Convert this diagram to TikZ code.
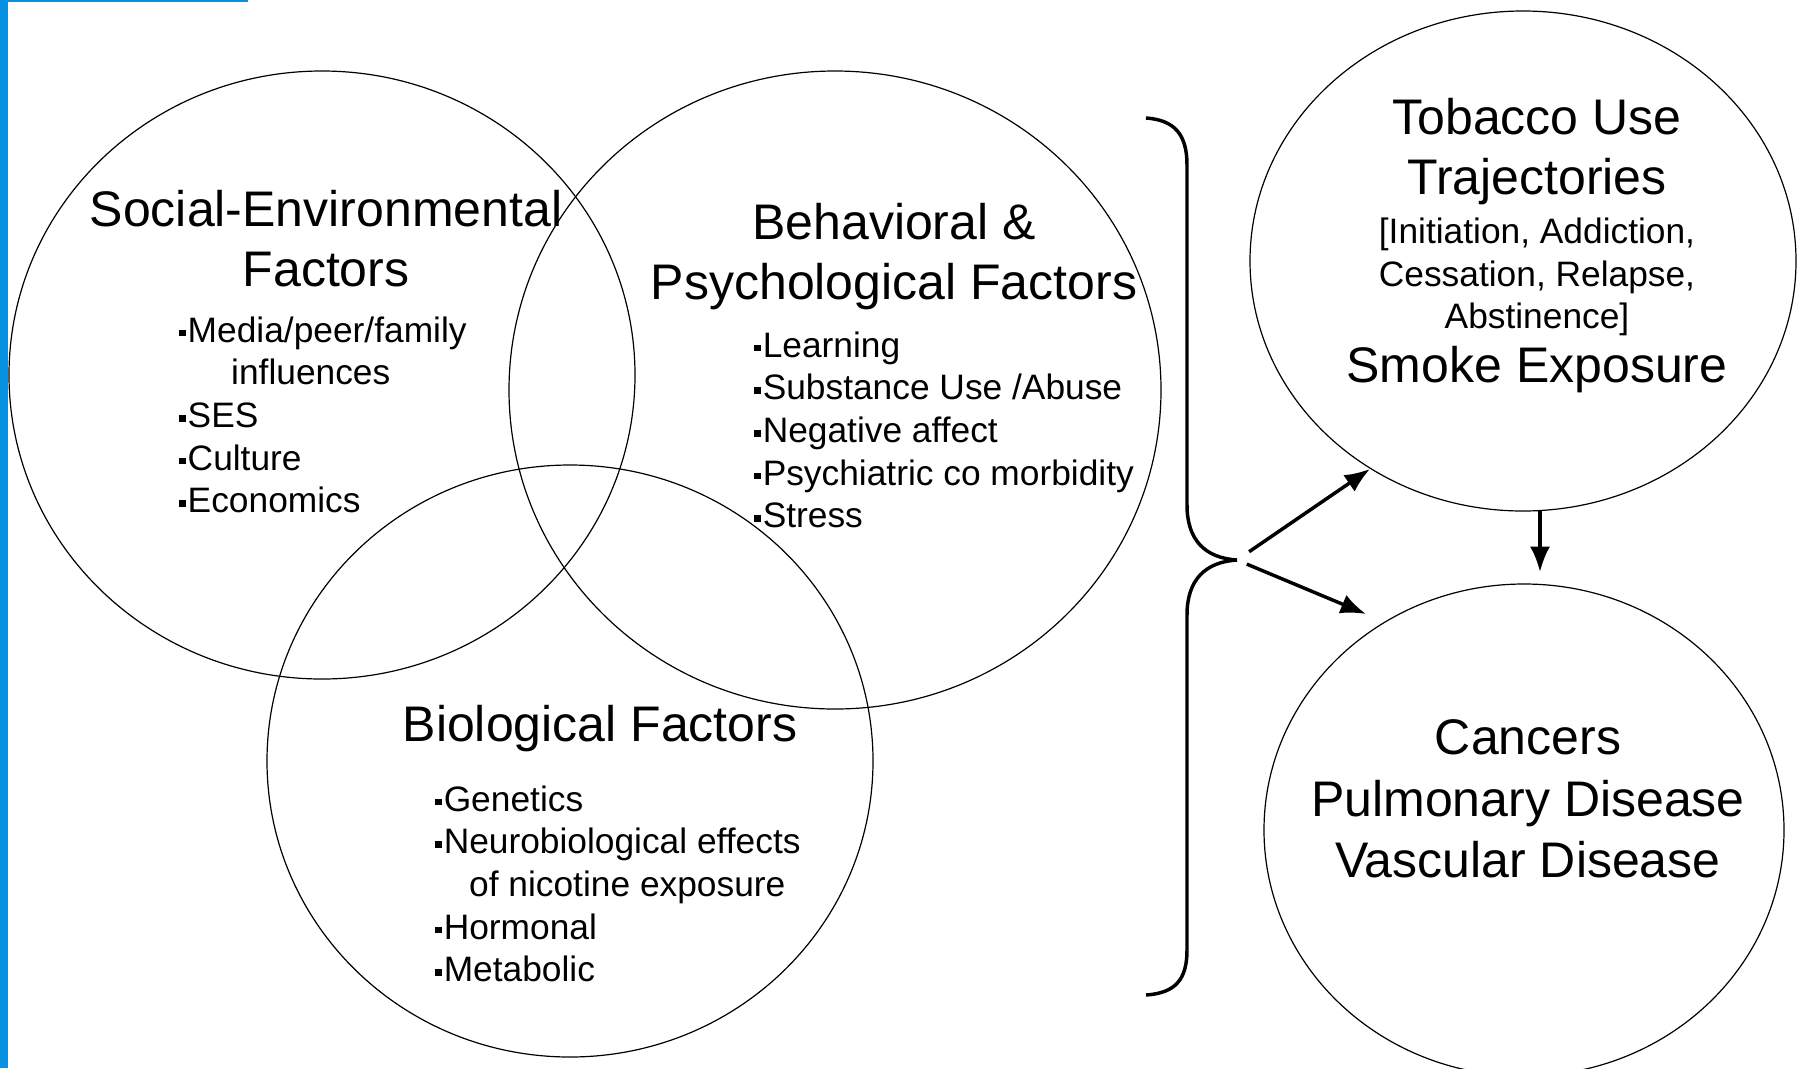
\documentclass[tikz,border=0pt]{standalone}
\usepackage{fontspec}
\setmainfont{Liberation Sans}
\usetikzlibrary{shapes.geometric,arrows.meta}
\definecolor{barblue}{RGB}{8,144,226}
\newcommand{\sq}{\rule[0.17em]{0.19em}{0.19em}\hspace{0.05em}}
\tikzset{
  ring/.style={draw, ellipse, inner sep=0pt, line width=0.9pt},
  headtext/.style={align=center, inner sep=0.75pt, font=\fontsize{37.5}{45}\selectfont},
  listtext/.style={align=left, inner sep=0.75pt, anchor=west, font=\fontsize{26.5}{32}\selectfont},
  arr/.style={line width=2.6pt, -{Latex[length=19pt,width=15pt]}},
}
\begin{document}
\begin{tikzpicture}[x=0.75pt,y=0.75pt,yscale=-1,xscale=1]
\useasboundingbox (0,0) rectangle (1802,1068);

%Blue frame
\fill [barblue] (0,0) rectangle (8,1068);
\fill [barblue] (0,0) rectangle (248,2);

%Factor rings
\node [ring, minimum width=469.5pt, minimum height=456pt] (soc) at (322,375) {};
\node [ring, minimum width=489pt, minimum height=478.5pt] (beh) at (835,390) {};
\node [ring, minimum width=454.5pt, minimum height=444pt] (bio) at (570,761) {};
%Outcome rings
\node [ring, minimum width=409.5pt, minimum height=375pt] (tob) at (1523,261) {};
\node [ring, minimum width=390pt, minimum height=369pt] (can) at (1524,830) {};

% Text Node
\node [headtext] (soc-head) at (326,239) {Social-Environmental\\Factors};
\node [listtext] (soc-list) at (178,415) {\sq Media/peer/family\\\hspace*{1.47em}influences\\\sq SES\\\sq Culture\\\sq Economics};
% Text Node
\node [headtext] (beh-head) at (894,257) {Behavioral \&\\Psychological Factors};
\node [listtext] (beh-list) at (753,430) {\sq Learning\\\sq Substance Use /Abuse\\\sq Negative affect\\\sq Psychiatric co morbidity\\\sq Stress};
% Text Node
\node [headtext] (bio-head) at (600,729) {Biological Factors};
\node [listtext] (bio-list) at (434,884) {\sq Genetics\\\sq Neurobiological effects\\\hspace*{0.96em}of nicotine exposure\\\sq Hormonal\\\sq Metabolic};
% Text Node
\node [headtext] (tob-head) at (1537,152) {Tobacco Use\\Trajectories};
\node [listtext, anchor=center, align=center] (tob-stages) at (1537,277) {[Initiation, Addiction,\\Cessation, Relapse,\\Abstinence]};
\node [headtext] (tob-smoke) at (1537,370) {Smoke Exposure};
% Text Node
\node [headtext, font=\fontsize{37.5}{46}\selectfont] (can-head) at (1528,799) {Cancers\\Pulmonary Disease\\Vascular Disease};

%Brace
\coordinate (tip) at (1237,560);
\draw [line width=2.6pt] (1146,118) .. controls (1175,120) and (1187,135) .. (1187,165) -- (1187,505) .. controls (1187,540) and (1205,558) .. (tip) .. controls (1205,562) and (1187,580) .. (1187,615) -- (1187,950) .. controls (1187,980) and (1175,993) .. (1146,995);

%Arrows
\coordinate (up-end) at (1370,469);
\coordinate (down-end) at (1366,614);
\coordinate (drop-top) at (1540,511);
\coordinate (drop-end) at (1540,572);
\draw [arr, shorten <=11pt] (tip) -- (up-end);
\draw [arr, shorten <=8pt] (tip) -- (down-end);
\draw [arr] (drop-top) -- (drop-end);
\end{tikzpicture}
\end{document}
